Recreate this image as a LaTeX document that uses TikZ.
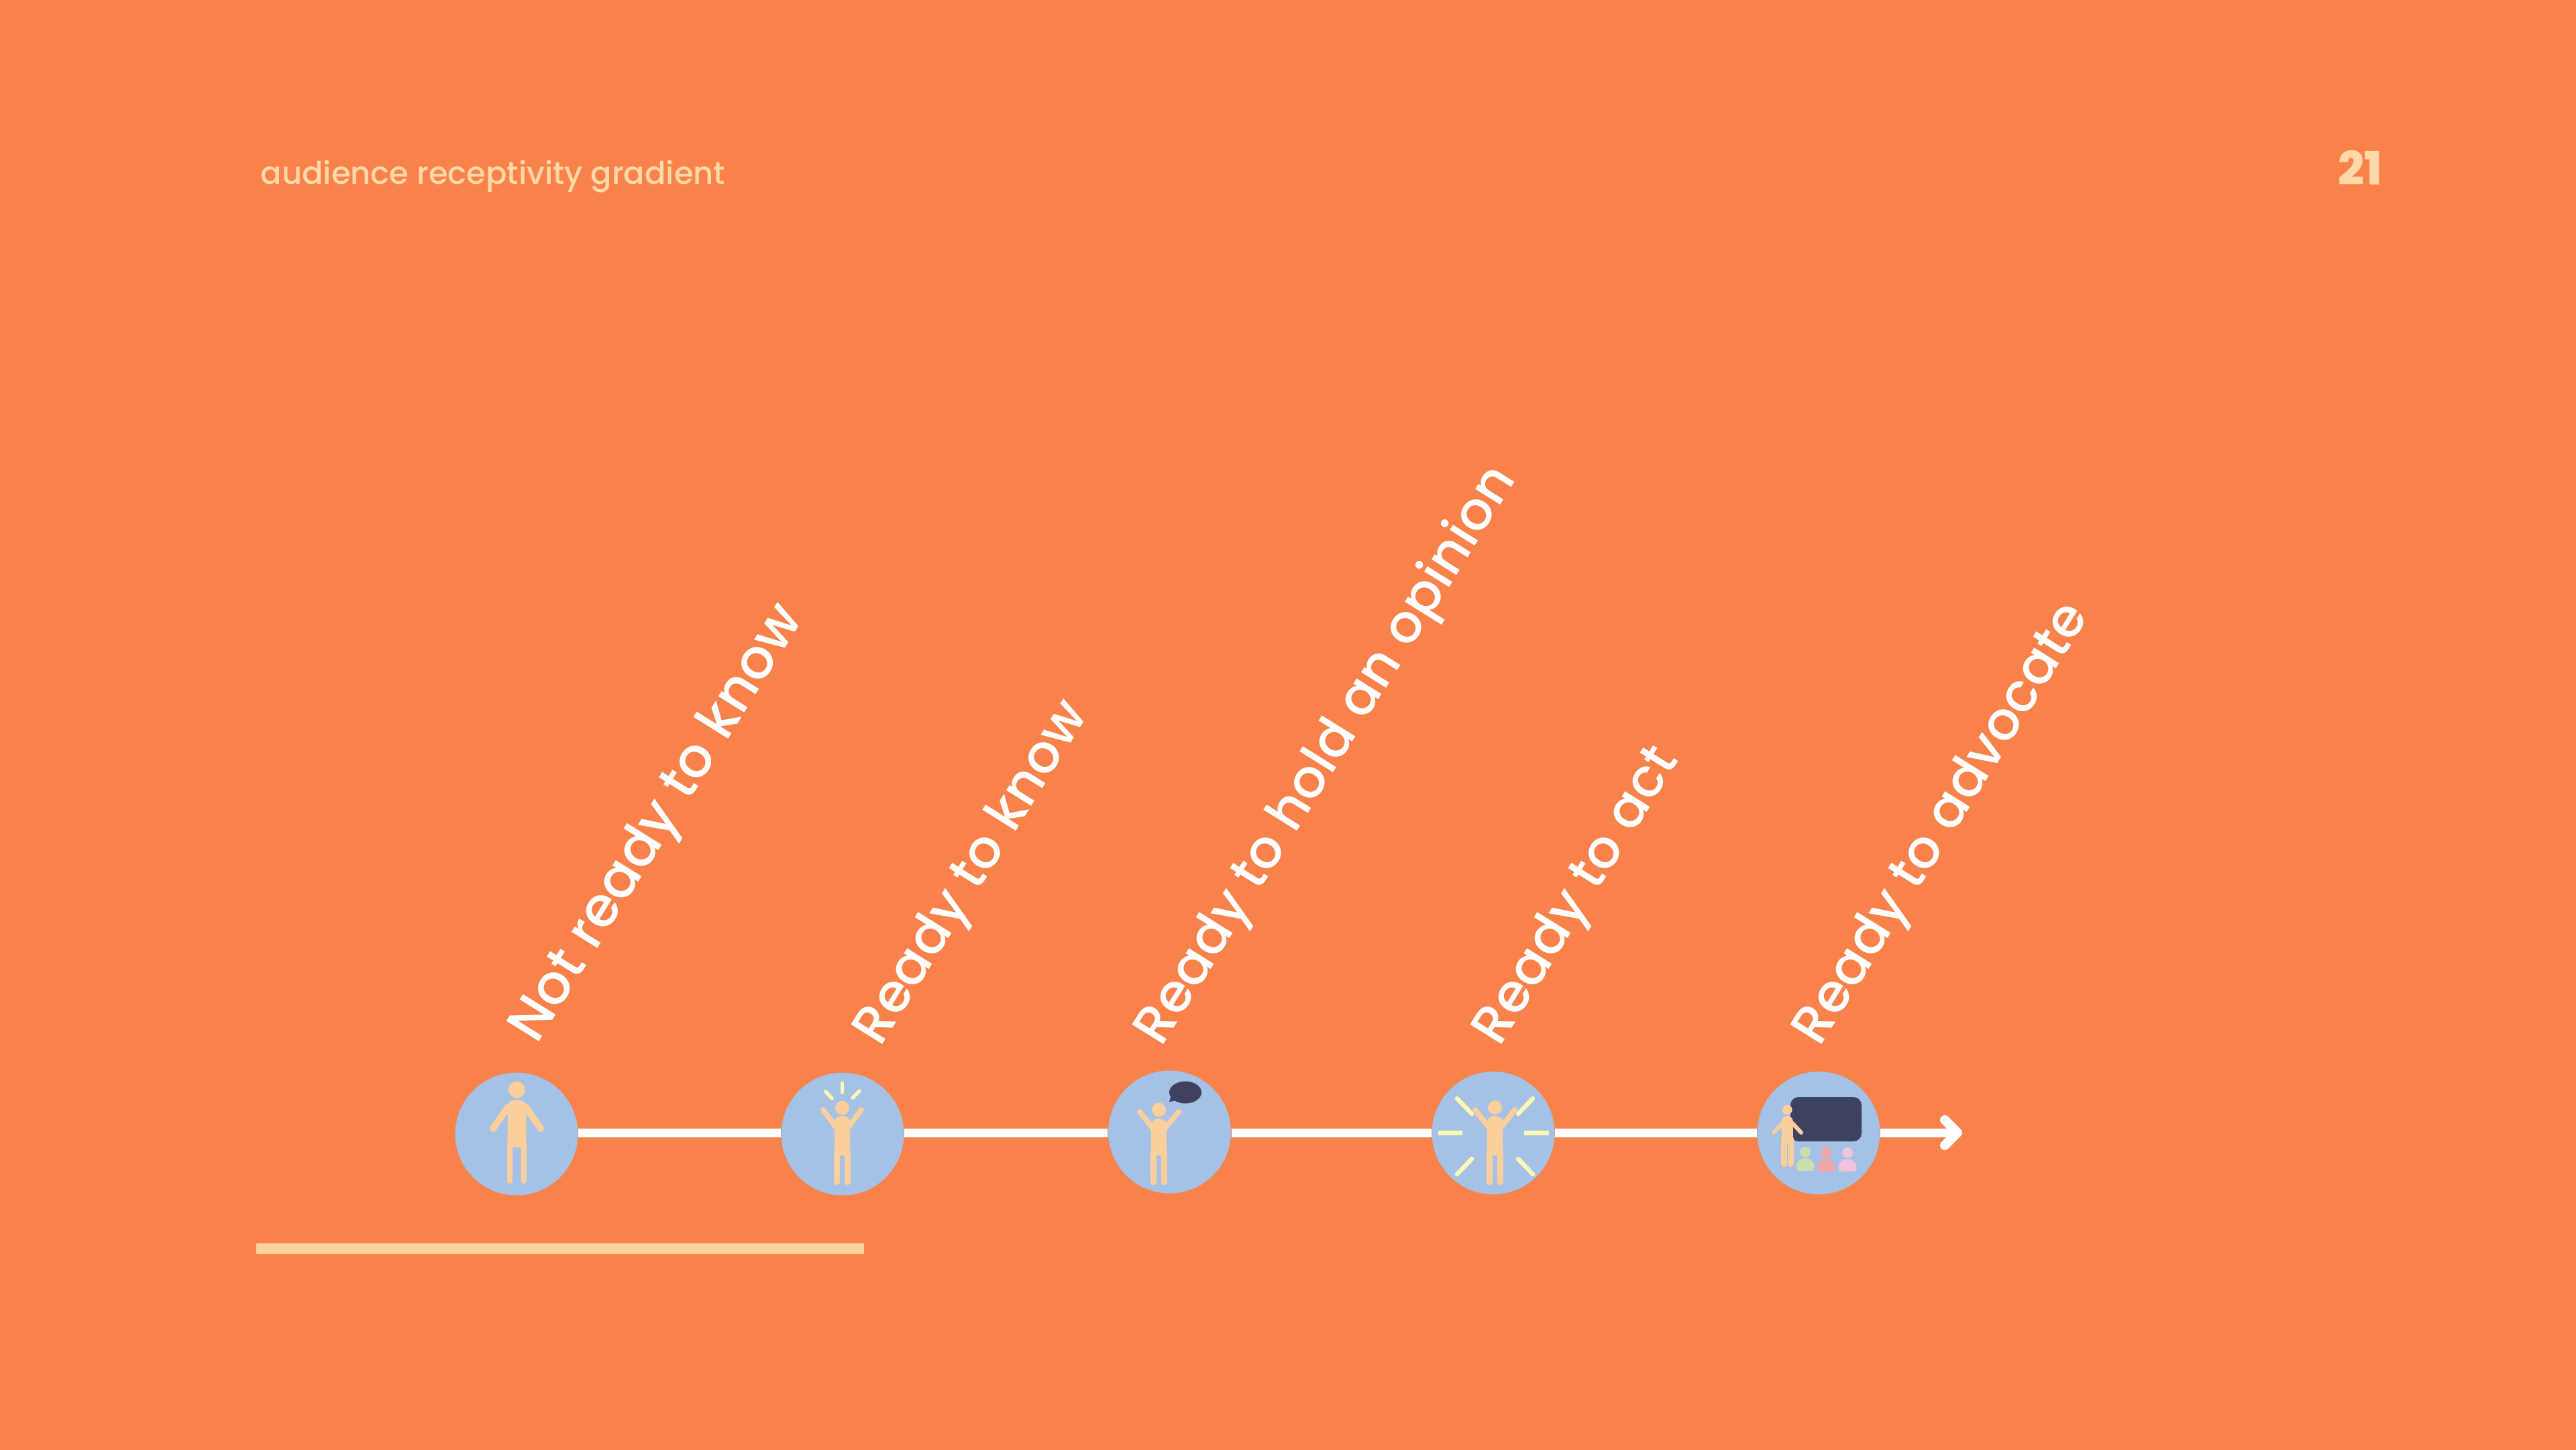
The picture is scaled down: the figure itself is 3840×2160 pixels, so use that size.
\documentclass[tikz,border=0pt]{standalone}
\usepackage{fontspec}
\setmainfont{Poppins}
\newfontfamily\numfont{Poppins ExtraBold}
\newfontfamily\labfont{Poppins Medium}
\definecolor{bgc}{HTML}{F8824A}
\definecolor{skin}{HTML}{FBCF9C}
\definecolor{disc}{HTML}{A5C1E5}
\definecolor{ray}{HTML}{FBF8B5}
\definecolor{board}{HTML}{3E4260}
\definecolor{titlec}{HTML}{FFD8A8}
\definecolor{barc}{HTML}{FDD29C}
\definecolor{aud1}{HTML}{C9DFAE}
\definecolor{aud2}{HTML}{EFA6A6}
\definecolor{aud3}{HTML}{EDC3E0}
\tikzset{
  disc/.style={circle,fill=disc,draw=none,inner sep=0pt,minimum size=183*0.01cm},
  limb/.style={draw=skin,line cap=round,line width=8*0.01cm},
  rayline/.style={draw=ray,line cap=round,line width=5.5*0.01cm},
  rayflat/.style={draw=ray,line width=7*0.01cm},
  axis/.style={draw=white,line width=13*0.01cm},
  axistip/.style={draw=white,line width=14*0.01cm,line cap=round,line join=round},
  label/.style={text=white,font=\labfont\fontsize{22.6}{23}\selectfont,rotate=58,anchor=base west,inner sep=0pt},
}
% person: #1 cx, #2 head y, #3 head r, #4 torso half w, #5 torso top, #6 torso bottom, #7 leg bottom
\newcommand{\figbody}[7]{%
  \fill[skin] (#1,#2) ellipse ({#3} and {#3});
  \fill[skin,rounded corners=6*0.01cm] ({#1-#4},#6) rectangle ({#1+#4},{#5+6});
  \fill[skin] (#1,{#5+9}) ellipse ({#4} and 9);
  \draw[skin,line cap=round,line width=0.085cm] ({#1-#4+3.5},{#6-6}) -- ({#1-#4+3.5},#7);
  \draw[skin,line cap=round,line width=0.085cm] ({#1+#4-3.5},{#6-6}) -- ({#1+#4-3.5},#7);
}
\begin{document}
\begin{tikzpicture}[x=0.01cm,y=-0.01cm]
\useasboundingbox (0,0) rectangle (3840,2160);
\fill[bgc] (-5,-5) rectangle (3845,2165);
\node[text=titlec,font=\labfont\fontsize{13.2}{13.4}\selectfont,anchor=base west,inner sep=0pt] (title) at (388,274) {audience receptivity gradient};
\node[text=titlec,font=\numfont\fontsize{19.5}{20}\selectfont,anchor=base east,inner sep=0pt] (page) at (3552,275) {21};
\coordinate (barA) at (382,1861);
\coordinate (barB) at (1288,1861);
\draw[barc,line width=16*0.01cm] (barA) -- (barB);

\node[disc] (n1) at (770,1690) {};
\node[disc] (n2) at (1256,1690) {};
\node[disc] (n3) at (1743.5,1687) {};
\node[disc] (n4) at (2226,1688.5) {};
\node[disc] (n5) at (2711,1688.5) {};
\coordinate (tip) at (2918,1688);
\coordinate (tipA) at (2899,1669);
\coordinate (tipB) at (2899,1707);
\draw[axis] (n1.east |- 0,1688) -- (n2.west |- 0,1688);
\draw[axis] (n2.east |- 0,1688) -- (n3.west |- 0,1688);
\draw[axis] (n3.east |- 0,1688) -- (n4.west |- 0,1688);
\draw[axis] (n4.east |- 0,1688) -- (n5.west |- 0,1688);
\draw[axis] (n5.east |- 0,1688) -- (tip);
\draw[axistip] (tipA) -- (tip) -- (tipB);

% labels
\node[label,font=\labfont\fontsize{23.4}{24}\selectfont] (l1) at (800,1558) {Not ready to know};
\node[label] (l2) at (1312,1562) {Ready to know};
\node[label] (l3) at (1731,1562) {Ready to hold an opinion};
\node[label] (l4) at (2235,1562) {Ready to act};
\node[label] (l5) at (2712,1562) {Ready to advocate};

% person 1
\figbody{770.5}{1624}{12.5}{14}{1639}{1710}{1760}
\draw[limb,line width=0.1cm] (757,1650) -- (735,1682);
\draw[limb,line width=0.1cm] (784,1650) -- (806,1682);

% person 2
\figbody{1255.5}{1651}{10.5}{11.5}{1663}{1722}{1762}
\draw[limb] (1247,1681) -- (1227,1654);
\draw[limb] (1264,1681) -- (1284,1654);
\draw[rayline] (1255.5,1614) -- (1255.5,1628);
\draw[rayline] (1231,1627) -- (1240,1637);
\draw[rayline] (1281,1626) -- (1271,1636);

% person 3
\figbody{1727.5}{1654}{10.5}{11.5}{1667}{1722}{1762}
\draw[limb] (1719,1682) -- (1699,1657);
\draw[limb] (1736,1682) -- (1757,1657);
\fill[board] (1767,1628) ellipse (24 and 16.5);
\fill[board] (1746,1631) -- (1743,1642) -- (1755,1640) -- cycle;

% person 4
\draw[rayline,line width=0.065cm] (2172,1637) -- (2194,1660);
\draw[rayline,line width=0.065cm] (2285,1637) -- (2263,1660);
\draw[rayline,line width=0.065cm] (2194,1727) -- (2172,1750);
\draw[rayline,line width=0.065cm] (2263,1727) -- (2285,1750);
\draw[rayflat] (2144,1688) -- (2180,1688);
\draw[rayflat] (2272,1688) -- (2309,1688);
\figbody{2228.5}{1650.5}{10.5}{11.5}{1663}{1722}{1762}
\draw[limb] (2220,1681) -- (2199,1654);
\draw[limb] (2237,1681) -- (2258,1654);

% person 5
\fill[board,rounded corners=0.12cm] (2669,1635) rectangle (2775,1701);
\figbody{2664.3}{1654}{7.3}{8.5}{1663}{1703}{1735}
\draw[limb,line width=0.06cm] (2658,1673) -- (2644,1688);
\draw[limb,line width=0.06cm] (2671,1673) -- (2685,1688);
\foreach \cx/\cy/\col in {2691/1717/aud1,2722.3/1718/aud2,2754/1718/aud3}{
  \fill[\col] (\cx,\cy) circle (8);
  \fill[\col,rounded corners=0.03cm] (\cx-13,\cy+28) -- (\cx-13,\cy+22) arc[start angle=180,end angle=0,x radius=13,y radius=-13] -- (\cx+13,\cy+28) -- cycle;
}
\end{tikzpicture}
\end{document}
